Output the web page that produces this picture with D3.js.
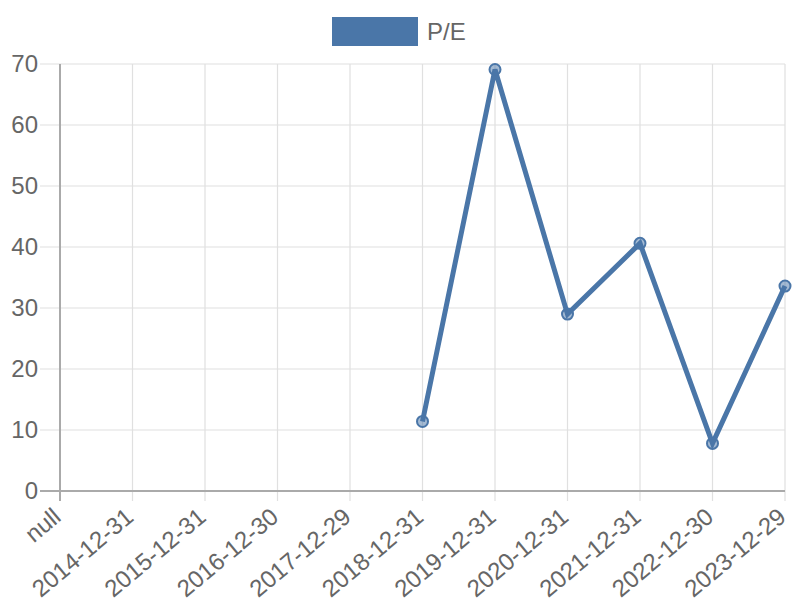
<!DOCTYPE html>
<html><head><meta charset="utf-8">
<script src="https://cdn.jsdelivr.net/npm/d3@7"></script>
<style>body{margin:0;background:#fff}svg{display:block}</style>
</head><body>
<script>
const categories = ["null","2014-12-31","2015-12-31","2016-12-30","2017-12-29","2018-12-31","2019-12-31","2020-12-31","2021-12-31","2022-12-30","2023-12-29"];
const peValues = [null,null,null,null,null,11.4,69.1,29.0,40.6,7.8,33.6];
const yTicks = [0,10,20,30,40,50,60,70];
const seriesName = "P/E";

(function(){
const W=800,H=600;
const pLeft=60,pRight=785,pTop=64,pBottom=491;
const color="#4a76a8";
const svg=d3.select("body").append("svg").attr("width",W).attr("height",H);
const x=d3.scalePoint().domain(categories).range([pLeft,pRight]).padding(0);
const y=d3.scaleLinear().domain([0,70]).range([pBottom,pTop]);
const font="Liberation Sans, Arial, sans-serif";
const fs=24;

const g=svg.append("g");
g.selectAll(".hg").data(yTicks).join("line")
 .attr("x1",pLeft-20).attr("x2",pRight).attr("y1",d=>y(d)).attr("y2",d=>y(d))
 .attr("stroke","#e0e0e0").attr("stroke-width",1.2);
g.selectAll(".vg").data(categories).join("line")
 .attr("x1",d=>x(d)).attr("x2",d=>x(d)).attr("y1",pTop).attr("y2",pBottom+10)
 .attr("stroke",(d,i)=>i===0?"#aaa":"#e0e0e0").attr("stroke-width",(d,i)=>i===0?2:1.2);
g.append("line").attr("x1",pLeft-20).attr("x2",pRight).attr("y1",y(0)).attr("y2",y(0)).attr("stroke","#aaa").attr("stroke-width",2);

svg.selectAll(".yl").data(yTicks).join("text")
 .attr("x",pLeft-22).attr("y",d=>y(d)).attr("dy","0.35em").attr("text-anchor","end")
 .attr("font-family",font).attr("font-size",fs).attr("fill","#666").text(d=>d);

svg.selectAll(".xl").data(categories).join("text")
 .attr("transform",d=>`translate(${x(d)-3},${pBottom+22}) rotate(-40)`)
 .attr("text-anchor","end").attr("dy","0.35em")
 .attr("font-family",font).attr("font-size",fs).attr("fill","#666").text(d=>d);

const data=categories.map((c,i)=>({c,v:peValues[i]}));
const line=d3.line().defined(d=>d.v!==null).x(d=>x(d.c)).y(d=>y(d.v));
svg.append("path").datum(data).attr("d",line).attr("fill","none")
 .attr("stroke",color).attr("stroke-width",5).attr("stroke-linejoin","miter");
svg.selectAll(".pt").data(data.filter(d=>d.v!==null)).join("circle")
 .attr("cx",d=>x(d.c)).attr("cy",d=>y(d.v)).attr("r",5.5)
 .attr("fill","rgba(74,118,168,0.5)").attr("stroke",color).attr("stroke-width",2);

svg.append("rect").attr("x",332).attr("y",17).attr("width",86).attr("height",29).attr("fill",color);
svg.append("text").attr("x",427).attr("y",32).attr("dy","0.35em")
 .attr("font-family",font).attr("font-size",fs).attr("fill","#666").text(seriesName);
})();
</script>
</body></html>
